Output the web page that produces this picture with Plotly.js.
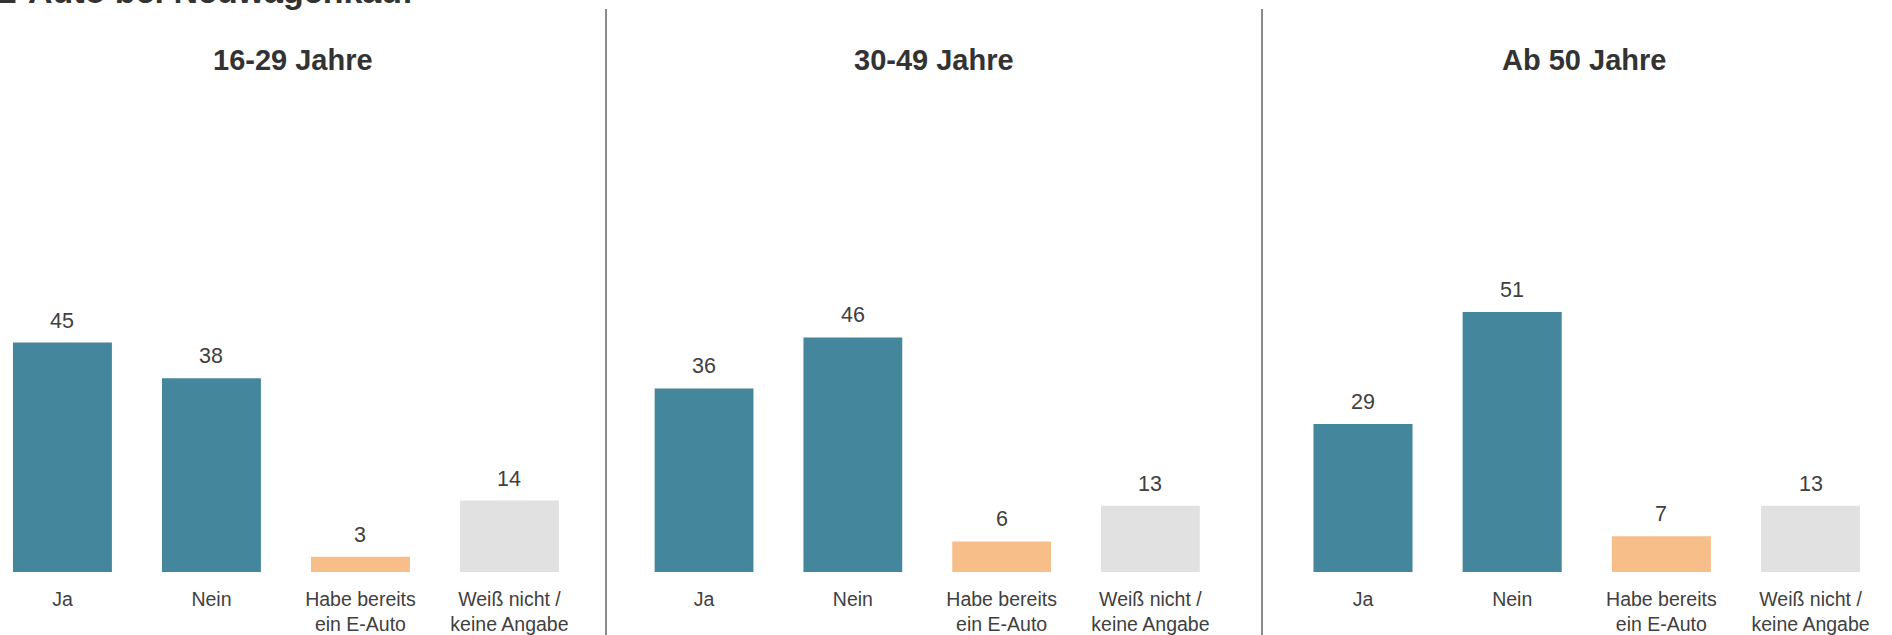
<!DOCTYPE html>
<html>
<head>
<meta charset="utf-8">
<script src="https://cdn.plot.ly/plotly-3.0.1.min.js"></script>
<style>html,body{margin:0;padding:0;background:#fff;}#chart{width:1892px;height:635px;}</style>
</head>
<body>
<div id="chart"></div>
<script>
// ---- data ----
const mainTitle = "E-Auto bei Neuwagenkauf";
const categories = ["Ja", "Nein", "Habe bereits<br>ein E-Auto", "Weiß nicht /<br>keine Angabe"];
const panelTitles = ["16-29 Jahre", "30-49 Jahre", "Ab 50 Jahre"];
const values1629 = [45, 38, 3, 14];
const values3049 = [36, 46, 6, 13];
const values50plus = [29, 51, 7, 13];

// ---- styling ----
const barColors = ["#44869b", "#44869b", "#f7be8a", "#e1e1e1"];
const W = 1892, H = 635;
const panelValues = [values1629, values3049, values50plus];
const domains = [[0, 606 / W], [606 / W, 1262 / W], [1262 / W, 1]];
const xRanges = [[-0.419, 3.648], [-0.659, 3.75], [-0.677, 3.546]];
const titleX = [293 / W, 934 / W, 1584 / W];
const font = "Liberation Sans, Arial, sans-serif";

const traces = [];
const annotations = [];
const layout = {
  width: W, height: H,
  margin: {l: 0, r: 0, t: 0, b: 0},
  paper_bgcolor: "#fff", plot_bgcolor: "#fff",
  showlegend: false,
  font: {family: font, color: "#404040"},
  shapes: [],
  annotations: annotations
};

panelValues.forEach((vals, i) => {
  const n = i === 0 ? "" : String(i + 1);
  const xa = "x" + n, ya = "y" + n;
  traces.push({
    type: "bar",
    x: categories, y: vals,
    xaxis: xa, yaxis: ya,
    width: 0.664,
    marker: {color: barColors, line: {width: 0}},
    hoverinfo: "x+y"
  });
  layout["xaxis" + n] = {
    domain: domains[i], anchor: ya, type: "category",
    range: xRanges[i], showgrid: false, zeroline: false, showline: false,
    ticks: "", ticklabelstandoff: 13,
    tickfont: {family: font, size: 19.5, color: "#404040"},
    fixedrange: true
  };
  layout["yaxis" + n] = {
    domain: [63 / H, 573 / H], anchor: xa, range: [0, 100],
    visible: false, showgrid: false, zeroline: false, fixedrange: true
  };
  vals.forEach((v, j) => {
    annotations.push({
      xref: xa, yref: ya, x: categories[j], y: v,
      text: String(v), showarrow: false,
      xanchor: "center", yanchor: "middle", yshift: 22,
      font: {family: font, size: 21.5, color: "#404040"}
    });
  });
  annotations.push({
    xref: "paper", yref: "paper", x: titleX[i], y: 1 - 60 / H,
    text: "<b>" + panelTitles[i] + "</b>", showarrow: false,
    xanchor: "center", yanchor: "middle",
    font: {family: font, size: 29, color: "#333333"}
  });
});

annotations.push({
  xref: "paper", yref: "paper", x: -8 / W, y: 1 + 9 / H,
  text: "<b>" + mainTitle + "</b>", showarrow: false,
  xanchor: "left", yanchor: "middle",
  font: {family: font, size: 34, color: "#333333"}
});

[606, 1262].forEach(px => {
  layout.shapes.push({
    type: "line", xref: "paper", yref: "paper",
    x0: px / W, x1: px / W, y0: 0, y1: 1 - 9 / H,
    line: {color: "#8a8a8a", width: 2}
  });
});

Plotly.newPlot("chart", traces, layout, {displayModeBar: false, staticPlot: true});
</script>
</body>
</html>
